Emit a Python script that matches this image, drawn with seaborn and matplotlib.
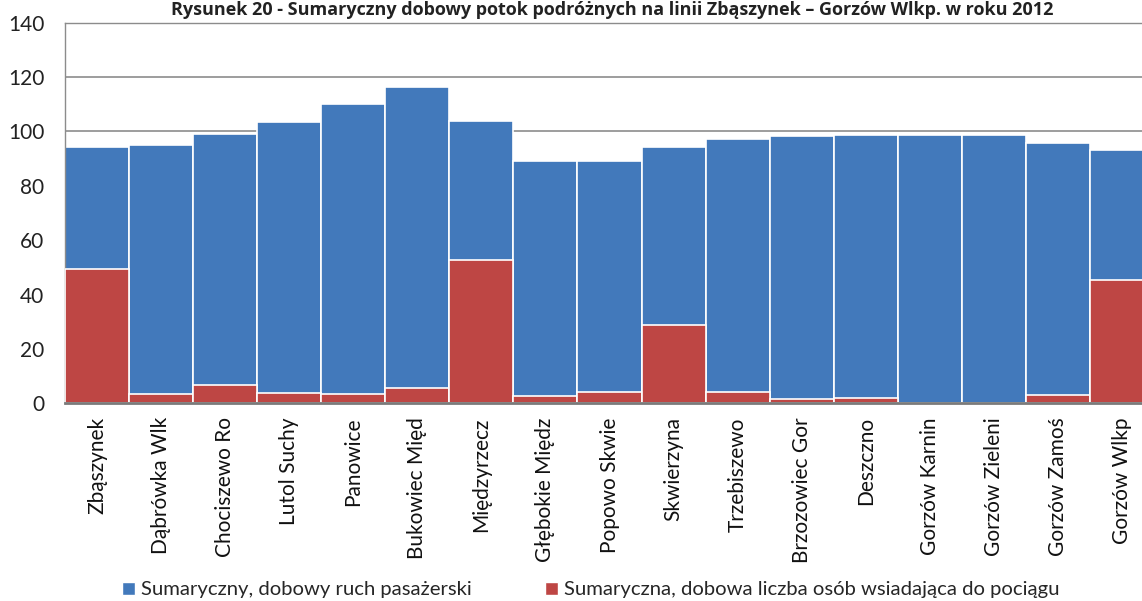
import matplotlib
matplotlib.use("Agg")
import matplotlib.pyplot as plt
import seaborn as sns
import pandas as pd
from matplotlib.patches import Patch

stations = ["Zbąszynek", "Dąbrówka Wlk", "Chociszewo Ro", "Lutol Suchy", "Panowice",
            "Bukowiec Międ", "Międzyrzecz", "Głębokie Międz", "Popowo Skwie", "Skwierzyna",
            "Trzebiszewo", "Brzozowiec Gor", "Deszczno", "Gorzów Karnin", "Gorzów Zieleni",
            "Gorzów Zamoś", "Gorzów Wlkp"]
total = [94.3, 95.0, 98.9, 103.5, 110.1, 116.2, 103.8, 89.1, 89.1, 94.1,
         97.2, 98.3, 98.8, 98.8, 98.8, 95.7, 93.2]
boarding = [49.3, 3.4, 6.6, 3.8, 3.4, 5.6, 52.7, 2.7, 4.0, 28.8,
            4.0, 1.5, 1.8, 0.0, 0.0, 3.0, 45.3]
yticks = [0, 20, 40, 60, 80, 100, 120, 140]

label_total = "Sumaryczny, dobowy ruch pasażerski"
label_board = "Sumaryczna, dobowa liczba osób wsiadająca do pociągu"
title = "Rysunek 20 - Sumaryczny dobowy potok podróżnych na linii Zbąszynek – Gorzów Wlkp. w roku 2012"

BLUE = "#4279BB"
RED = "#BE4644"

sns.set_theme(style="white")
plt.rcParams['font.family'] = ['Lato', 'DejaVu Sans']

df = pd.DataFrame({"station": stations, "total": total, "boarding": boarding})

W, H = 1142, 601
fig = plt.figure(figsize=(W / 100, H / 100), dpi=100)
left, right = 65, 1154
top, bottom = 22.7, 403.3
ax = fig.add_axes([left / W, (H - bottom) / H, (right - left) / W, (bottom - top) / H])

sns.barplot(data=df, x="station", y="total", color=BLUE, saturation=1, width=1.0,
            edgecolor="white", linewidth=1.2, ax=ax, zorder=2)
sns.barplot(data=df, x="station", y="boarding", color=RED, saturation=1, width=1.0,
            edgecolor="white", linewidth=1.2, ax=ax, zorder=3)

ax.set_xlim(-0.5, len(stations) - 0.5)
ax.set_ylim(0, 140)
ax.set_yticks(yticks)
ax.set_yticklabels([str(v) for v in yticks], fontsize=15, color="#222222")
ax.set_xticks(range(len(stations)))
ax.set_xticklabels(stations, rotation=90, fontsize=15, color="#111111", va="top", ha="center")
ax.tick_params(axis="y", length=0, pad=15)
ax.tick_params(axis="x", length=0, pad=10)
ax.set_xlabel("")
ax.set_ylabel("")
ax.yaxis.grid(True, color="#8c8c8c", linewidth=1.2, zorder=0)
ax.set_axisbelow(True)
for s in ["top", "right", "left"]:
    ax.spines[s].set_color("#8c8c8c")
    ax.spines[s].set_linewidth(1.0)
ax.spines["bottom"].set_color("#7a7a7a")
ax.spines["bottom"].set_linewidth(2.0)
ax.spines["bottom"].set_zorder(5)

handles = [Patch(facecolor=BLUE, edgecolor="white", label=label_total),
           Patch(facecolor=RED, edgecolor="white", label=label_board)]
fig.legend(handles=handles, loc="center", bbox_to_anchor=(591 / W, (H - 590) / H), ncol=2,
           frameon=False, fontsize=14.6, handlelength=0.65, handleheight=0.65,
           handletextpad=0.3, columnspacing=3.6, borderaxespad=0)

fig.text(612 / W, 1 - 1 / H, title, ha="center", va="top", fontsize=13,
         fontweight="bold", color="#222222", family=["Open Sans", "DejaVu Sans"])

fig.savefig("out.png", dpi=100)
